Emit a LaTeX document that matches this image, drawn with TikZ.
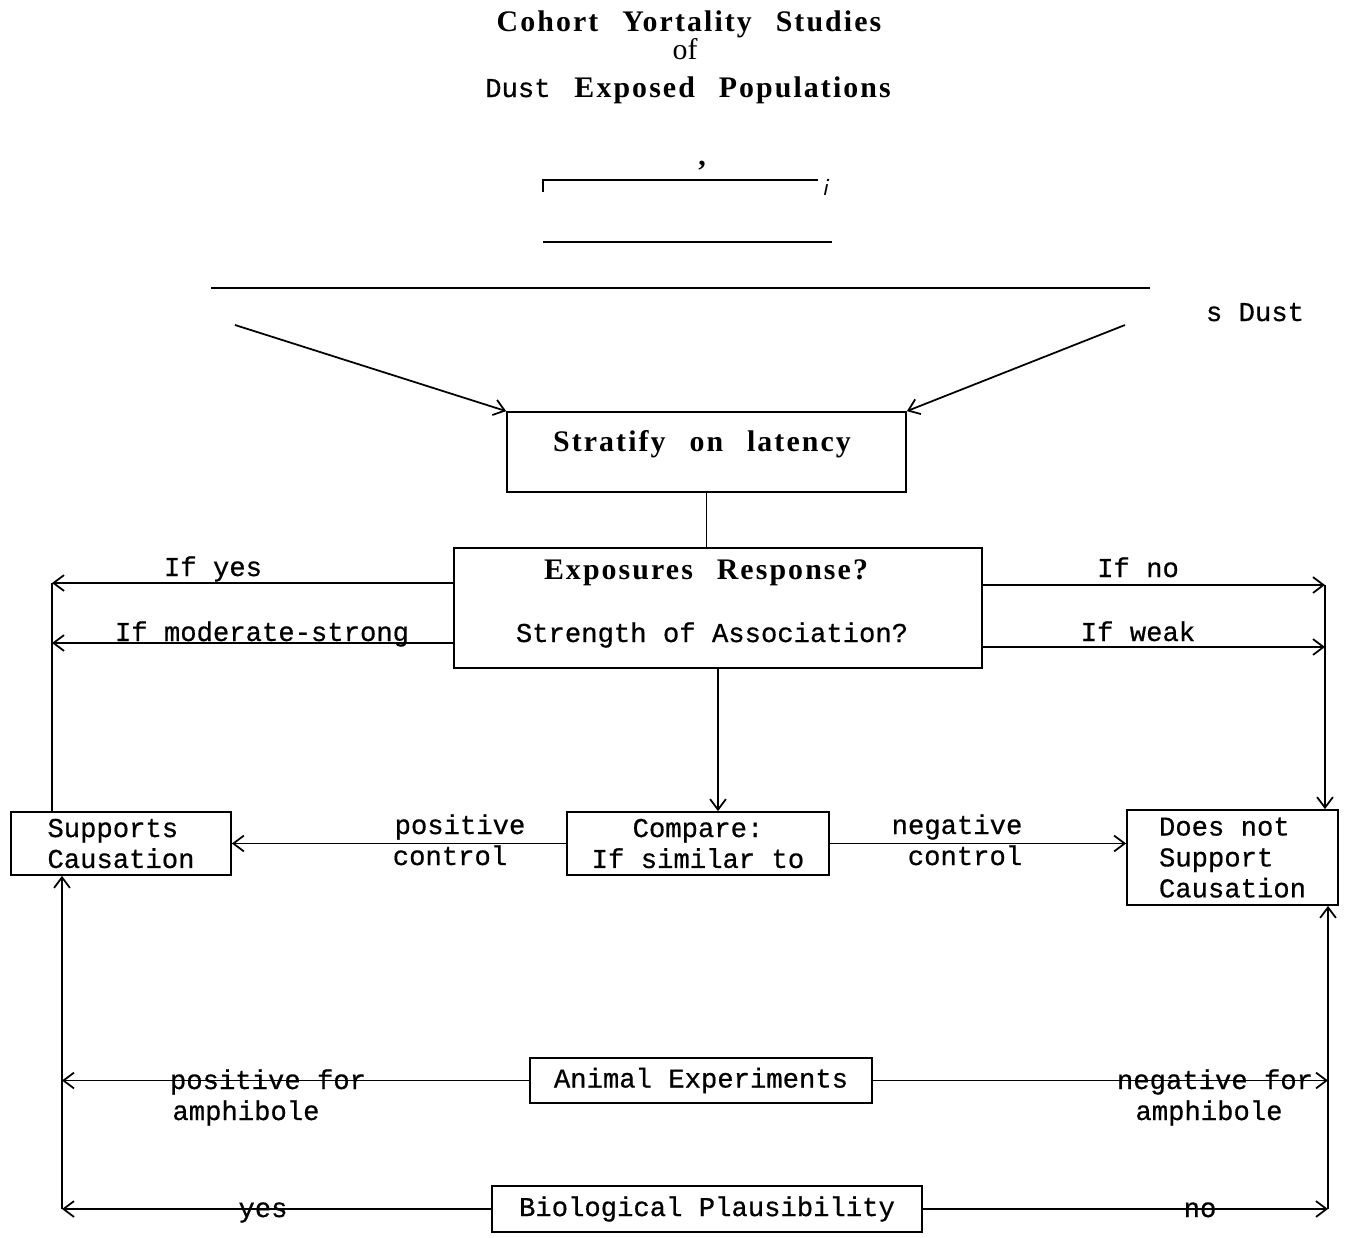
\documentclass[tikz,border=0pt]{standalone}
\usepackage{fontspec}
\setmainfont{Liberation Serif}
\newfontfamily\typewr[FakeBold=0.6]{Liberation Mono}
\newfontfamily\spacedbf[LetterSpace=7,WordSpace=2.5]{Liberation Serif}
\usetikzlibrary{arrows.meta}
\newlength\pxu
\setlength\pxu{0.02cm}

\begin{document}
\begin{tikzpicture}[x=0.02cm, y=-0.02cm, line width=1pt,
  >={Straight Barb[length=6pt,width=9pt]},
  box/.style={draw, line width=1pt, inner sep=0pt},
  tw/.style={font=\typewr\fontsize{15.5}{17.6}\selectfont},
  hd/.style={font=\spacedbf\bfseries\fontsize{17}{20}\selectfont}]
  \useasboundingbox (0,0) rectangle (1348,1237);

  % Titulo
  \node[hd, anchor=base] (title) at (689,32) {Cohort Yortality Studies};
  \node[font=\fontsize{17}{20}\selectfont, anchor=base] (titleof) at (685,60) {of};
  \node[hd, anchor=base] (titlepop) at (688,97) {{\typewr\mdseries\fontsize{15.5}{17.6}\selectfont Dust}\ Exposed Populations};

  % Rayas sueltas de arriba
  \draw (543,192) -- (543,180) -- (818,180);
  \node[font=\bfseries\fontsize{17}{20}\selectfont] (comma) at (702,166) {,};
  \node[font=\sffamily\itshape\fontsize{14}{16}\selectfont] (itali) at (825,187) {i};
  \draw[line width=1.6pt] (543,242) -- (832,242);
  \draw (211,288) -- (1150,288);
  \node[tw, anchor=base] (sdust) at (1255,321) {s Dust};

  % Cajas
  \node[box, minimum width=399\pxu, minimum height=80\pxu] (strat) at (706.5,452) {};
  \node[hd, anchor=base] (strattxt) at (702,451) {Stratify on latency};
  \node[box, minimum width=528\pxu, minimum height=120\pxu] (expo) at (718,608) {};
  \node[hd, anchor=base] (expotxt) at (706,579) {Exposures Response?};
  \node[tw, anchor=base] (strtxt) at (712,642) {Strength of Association?};
  \node[box, tw, align=center, minimum width=262\pxu, minimum height=63\pxu] (comp) at (698,843.5) {Compare:\\If similar to};
  \node[box, tw, align=left, minimum width=220\pxu, minimum height=63\pxu] (supp) at (121,843.5) {Supports\\Causation};
  \node[box, tw, align=left, minimum width=211\pxu, minimum height=95\pxu] (dnot) at (1232.5,857.5) {Does not\\Support\\Causation};
  \node[box, tw, minimum width=342\pxu, minimum height=45\pxu] (anim) at (701,1080.5) {Animal Experiments};
  \node[box, tw, minimum width=430\pxu, minimum height=46\pxu] (bio) at (707,1209) {Biological Plausibility};

  % Esquinas
  \coordinate (fromL) at (235,325);
  \coordinate (fromR) at (1125,325);
  \coordinate (ltop) at (52,583);
  \coordinate (lmid) at (52,643);
  \coordinate (rtop) at (1325,585);
  \coordinate (rmid) at (1325,647);
  \coordinate (lbot) at (62,1209);
  \coordinate (rbot) at (1328,1209);

  % Flechas de arriba
  \draw[->] (fromL) -- (strat.north west);
  \draw[->] (fromR) -- (strat.north east);
  \draw (strat.south) -- (strat.south |- expo.north);

  % Lado izquierdo
  \draw[->] (expo.west |- ltop) -- (ltop);
  \draw[->] (expo.west |- lmid) -- (lmid);
  \draw (supp.north -| ltop) -- (ltop);
  \node[tw, anchor=base] (lyes) at (213,576) {If yes};
  \node[tw, anchor=base] (lmod) at (262,641) {If moderate-strong};

  % Lado derecho
  \draw[->] (expo.east |- rtop) -- (rtop);
  \draw[->] (expo.east |- rmid) -- (rmid);
  \draw[->] (rtop) -- (dnot.north -| rtop);
  \node[tw, anchor=base] (lno) at (1138,577) {If no};
  \node[tw, anchor=base] (lweak) at (1138,641) {If weak};

  % Comparar
  \draw[->] (expo.south) -- (expo.south |- comp.north);
  \draw[->] (comp.west) -- (comp.west -| supp.east);
  \draw[->] (comp.east) -- (comp.east -| dnot.west);
  \node[tw, anchor=base] (lpos) at (460,834) {positive};
  \node[tw, anchor=base] (lposc) at (450,865) {control};
  \node[tw, anchor=base] (lneg) at (957,834) {negative};
  \node[tw, anchor=base] (lnegc) at (965,865) {control};

  % Abajo
  \draw[->] (lbot) -- (supp.south -| lbot);
  \draw[->] (rbot) -- (dnot.south -| rbot);
  \draw[->] (anim.west) -- (anim.west -| lbot);
  \draw[->] (anim.east) -- (anim.east -| rbot);
  \draw[->] (bio.west) -- (bio.west -| lbot);
  \draw[->] (bio.east) -- (bio.east -| rbot);
  \node[tw, anchor=base] (lposf) at (268,1089) {positive for};
  \node[tw, anchor=base] (lamph) at (246,1120) {amphibole};
  \node[tw, anchor=base] (lnegf) at (1215,1089) {negative for};
  \node[tw, anchor=base] (lamphb) at (1209,1120) {amphibole};
  \node[tw, anchor=base] (lyesb) at (263,1217) {yes};
  \node[tw, anchor=base] (lnob) at (1200,1217) {no};

\end{tikzpicture}
\end{document}
